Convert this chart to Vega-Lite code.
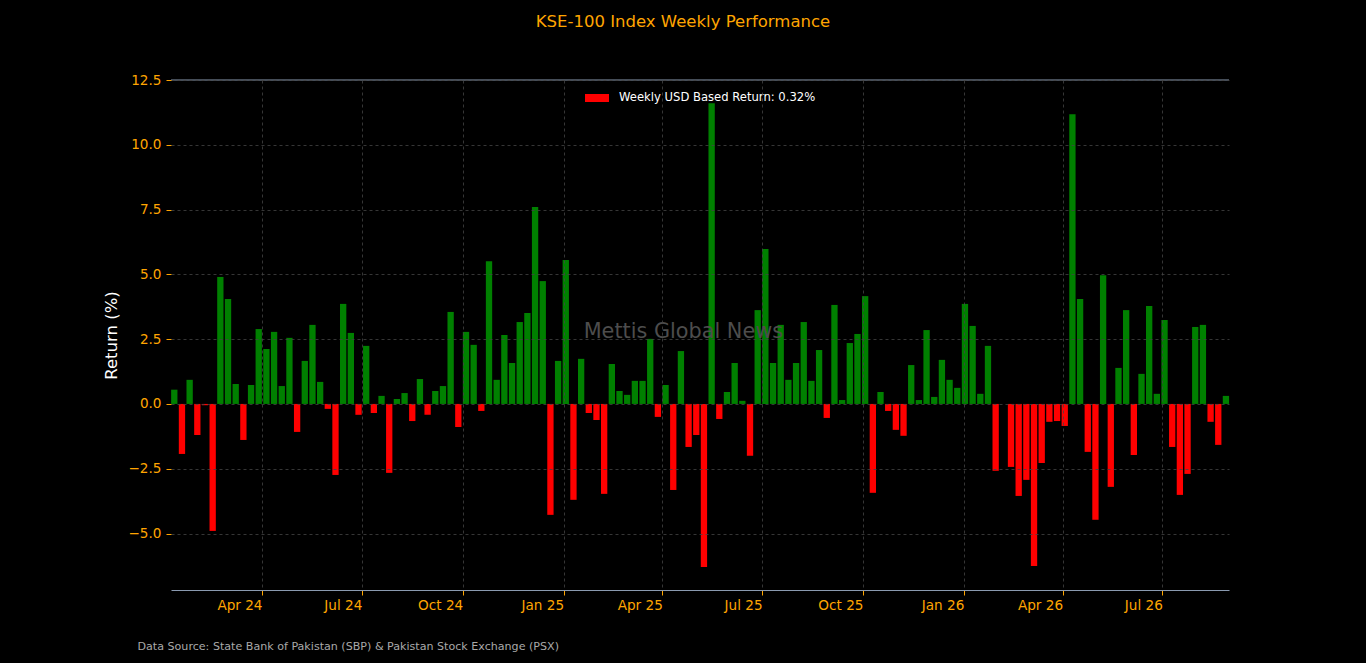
{
  "$schema": "https://vega.github.io/schema/vega-lite/v6.json",
  "autosize": {"type": "none"},
  "padding": {"left": 171, "top": 80, "right": 137, "bottom": 73},
  "width": 1058,
  "height": 510,
  "background": "#000000",
  "title": {
    "text": "KSE-100 Index Weekly Performance",
    "color": "#FFA500",
    "font": "DejaVu Sans",
    "fontSize": 16.5,
    "fontWeight": "normal",
    "anchor": "middle",
    "frame": "group",
    "dx": -17,
    "baseline": "alphabetic",
    "offset": 30
  },
  "data": {
    "values": [
      {"week": "2024-01-12", "ret": 0.55}, {"week": "2024-01-19", "ret": -1.93}, {"week": "2024-01-26", "ret": 0.93},
      {"week": "2024-02-02", "ret": -1.2}, {"week": "2024-02-09", "ret": -0.05}, {"week": "2024-02-16", "ret": -4.9},
      {"week": "2024-02-23", "ret": 4.9}, {"week": "2024-03-01", "ret": 4.05}, {"week": "2024-03-08", "ret": 0.77},
      {"week": "2024-03-15", "ret": -1.39}, {"week": "2024-03-22", "ret": 0.73}, {"week": "2024-03-29", "ret": 2.89},
      {"week": "2024-04-05", "ret": 2.12}, {"week": "2024-04-12", "ret": 2.78}, {"week": "2024-04-19", "ret": 0.69},
      {"week": "2024-04-26", "ret": 2.55}, {"week": "2024-05-03", "ret": -1.08}, {"week": "2024-05-10", "ret": 1.66},
      {"week": "2024-05-17", "ret": 3.05}, {"week": "2024-05-24", "ret": 0.85}, {"week": "2024-05-31", "ret": -0.19},
      {"week": "2024-06-07", "ret": -2.74}, {"week": "2024-06-14", "ret": 3.86}, {"week": "2024-06-21", "ret": 2.74},
      {"week": "2024-06-28", "ret": -0.42}, {"week": "2024-07-05", "ret": 2.24}, {"week": "2024-07-12", "ret": -0.35},
      {"week": "2024-07-19", "ret": 0.31}, {"week": "2024-07-26", "ret": -2.66}, {"week": "2024-08-02", "ret": 0.19},
      {"week": "2024-08-09", "ret": 0.42}, {"week": "2024-08-16", "ret": -0.66}, {"week": "2024-08-23", "ret": 0.96},
      {"week": "2024-08-30", "ret": -0.42}, {"week": "2024-09-06", "ret": 0.5}, {"week": "2024-09-13", "ret": 0.69},
      {"week": "2024-09-20", "ret": 3.55}, {"week": "2024-09-27", "ret": -0.89}, {"week": "2024-10-04", "ret": 2.78},
      {"week": "2024-10-11", "ret": 2.28}, {"week": "2024-10-18", "ret": -0.27}, {"week": "2024-10-25", "ret": 5.51},
      {"week": "2024-11-01", "ret": 0.93}, {"week": "2024-11-08", "ret": 2.66}, {"week": "2024-11-15", "ret": 1.58},
      {"week": "2024-11-22", "ret": 3.16}, {"week": "2024-11-29", "ret": 3.51}, {"week": "2024-12-06", "ret": 7.6},
      {"week": "2024-12-13", "ret": 4.74}, {"week": "2024-12-20", "ret": -4.28}, {"week": "2024-12-27", "ret": 1.66},
      {"week": "2025-01-03", "ret": 5.55}, {"week": "2025-01-10", "ret": -3.7}, {"week": "2025-01-17", "ret": 1.74},
      {"week": "2025-01-24", "ret": -0.35}, {"week": "2025-01-31", "ret": -0.62}, {"week": "2025-02-07", "ret": -3.47},
      {"week": "2025-02-14", "ret": 1.54}, {"week": "2025-02-21", "ret": 0.5}, {"week": "2025-02-28", "ret": 0.35},
      {"week": "2025-03-07", "ret": 0.89}, {"week": "2025-03-14", "ret": 0.89}, {"week": "2025-03-21", "ret": 2.51},
      {"week": "2025-03-28", "ret": -0.5}, {"week": "2025-04-04", "ret": 0.73}, {"week": "2025-04-11", "ret": -3.32},
      {"week": "2025-04-18", "ret": 2.04}, {"week": "2025-04-25", "ret": -1.66}, {"week": "2025-05-02", "ret": -1.2},
      {"week": "2025-05-09", "ret": -6.29}, {"week": "2025-05-16", "ret": 11.6}, {"week": "2025-05-23", "ret": -0.58},
      {"week": "2025-05-30", "ret": 0.46}, {"week": "2025-06-06", "ret": 1.58}, {"week": "2025-06-13", "ret": 0.12},
      {"week": "2025-06-20", "ret": -2.0}, {"week": "2025-06-27", "ret": 3.62}, {"week": "2025-07-04", "ret": 5.98},
      {"week": "2025-07-11", "ret": 1.58}, {"week": "2025-07-18", "ret": 3.05}, {"week": "2025-07-25", "ret": 0.93},
      {"week": "2025-08-01", "ret": 1.58}, {"week": "2025-08-08", "ret": 3.16}, {"week": "2025-08-15", "ret": 0.89},
      {"week": "2025-08-22", "ret": 2.08}, {"week": "2025-08-29", "ret": -0.54}, {"week": "2025-09-05", "ret": 3.82},
      {"week": "2025-09-12", "ret": 0.15}, {"week": "2025-09-19", "ret": 2.35}, {"week": "2025-09-26", "ret": 2.7},
      {"week": "2025-10-03", "ret": 4.16}, {"week": "2025-10-10", "ret": -3.43}, {"week": "2025-10-17", "ret": 0.46},
      {"week": "2025-10-24", "ret": -0.27}, {"week": "2025-10-31", "ret": -1.0}, {"week": "2025-11-07", "ret": -1.23},
      {"week": "2025-11-14", "ret": 1.5}, {"week": "2025-11-21", "ret": 0.15}, {"week": "2025-11-28", "ret": 2.85},
      {"week": "2025-12-05", "ret": 0.27}, {"week": "2025-12-12", "ret": 1.7}, {"week": "2025-12-19", "ret": 0.93},
      {"week": "2025-12-26", "ret": 0.62}, {"week": "2026-01-02", "ret": 3.86}, {"week": "2026-01-09", "ret": 3.01},
      {"week": "2026-01-16", "ret": 0.39}, {"week": "2026-01-23", "ret": 2.24}, {"week": "2026-01-30", "ret": -2.58},
      {"week": "2026-02-06", "ret": 0.0}, {"week": "2026-02-13", "ret": -2.43}, {"week": "2026-02-20", "ret": -3.55},
      {"week": "2026-02-27", "ret": -2.93}, {"week": "2026-03-06", "ret": -6.25}, {"week": "2026-03-13", "ret": -2.28},
      {"week": "2026-03-20", "ret": -0.69}, {"week": "2026-03-27", "ret": -0.66}, {"week": "2026-04-03", "ret": -0.85},
      {"week": "2026-04-10", "ret": 11.18}, {"week": "2026-04-17", "ret": 4.05}, {"week": "2026-04-24", "ret": -1.85},
      {"week": "2026-05-01", "ret": -4.47}, {"week": "2026-05-08", "ret": 4.97}, {"week": "2026-05-15", "ret": -3.2},
      {"week": "2026-05-22", "ret": 1.39}, {"week": "2026-05-29", "ret": 3.62}, {"week": "2026-06-05", "ret": -1.97},
      {"week": "2026-06-12", "ret": 1.16}, {"week": "2026-06-19", "ret": 3.78}, {"week": "2026-06-26", "ret": 0.39},
      {"week": "2026-07-03", "ret": 3.24}, {"week": "2026-07-10", "ret": -1.66}, {"week": "2026-07-17", "ret": -3.51},
      {"week": "2026-07-24", "ret": -2.7}, {"week": "2026-07-31", "ret": 2.97}, {"week": "2026-08-07", "ret": 3.05},
      {"week": "2026-08-14", "ret": -0.69}, {"week": "2026-08-21", "ret": -1.58}, {"week": "2026-08-28", "ret": 0.31}
    ],
    "format": {"parse": {"week": "date:'%Y-%m-%d'"}}
  },
  "layer": [
    {
      "mark": {"type": "bar", "size": 6.3, "strokeWidth": 0},
      "encoding": {
        "x": {
          "field": "week",
          "type": "temporal",
          "scale": {
            "padding": 0,
            "domain": [
              {"year": 2024, "month": 1, "date": 9},
              {"year": 2026, "month": 8, "date": 30, "hours": 19}
            ]
          },
          "axis": {
            "values": [
              {"year": 2024, "month": 4, "date": 1}, {"year": 2024, "month": 7, "date": 1},
              {"year": 2024, "month": 10, "date": 1}, {"year": 2025, "month": 1, "date": 1},
              {"year": 2025, "month": 4, "date": 1}, {"year": 2025, "month": 7, "date": 1},
              {"year": 2025, "month": 10, "date": 1}, {"year": 2026, "month": 1, "date": 1},
              {"year": 2026, "month": 4, "date": 1}, {"year": 2026, "month": 7, "date": 1}
            ],
            "format": "%b %y",
            "labelAlign": "right",
            "labelBaseline": "top",
            "labelPadding": 3,
            "labelColor": "#FFA500",
            "labelFontSize": 13.6,
            "tickColor": "#FFA500",
            "tickSize": 5,
            "domainColor": "#8a9ab0",
            "domainWidth": 1,
            "grid": true,
            "gridColor": "#444444",
            "gridDash": [3, 3],
            "gridWidth": 0.8,
            "zindex": 1,
            "title": "Data Source: State Bank of Pakistan (SBP) & Pakistan Stock Exchange (PSX)",
            "titleColor": "#a9a9a9",
            "titleFontSize": 11.1,
            "titleFontWeight": "normal",
            "titleAnchor": "start",
            "titleAlign": "left",
            "titleBaseline": "alphabetic",
            "titleX": -34,
            "titleY": 59
          }
        },
        "y": {
          "field": "ret",
          "type": "quantitative",
          "scale": {"domain": [-7.18, 12.5], "nice": false, "zero": false, "padding": 0},
          "axis": {
            "values": [-5, -2.5, 0, 2.5, 5, 7.5, 10, 12.5],
            "format": ".1f",
            "domain": false,
            "labelColor": "#FFA500",
            "labelFontSize": 13.6,
            "labelPadding": 5,
            "tickColor": "#FFA500",
            "tickSize": 5,
            "grid": true,
            "gridColor": "#444444",
            "gridDash": [3, 3],
            "gridWidth": 0.8,
            "zindex": 1,
            "title": "Return (%)",
            "titleColor": "#ffffff",
            "titleFontSize": 16.5,
            "titleFontWeight": "normal",
            "titlePadding": 8
          }
        },
        "color": {
          "condition": {"test": "datum.ret >= 0", "value": "#008000"},
          "datum": "Weekly USD Based Return: 0.32%",
          "type": "nominal",
          "scale": {"range": ["#ff0000"]},
          "legend": {
            "orient": "none",
            "legendX": 418,
            "legendY": 10,
            "title": null,
            "padding": 0,
            "symbolType": "M-1.5,-0.5H1.5V0.5H-1.5Z",
            "symbolSize": 256,
            "symbolStrokeWidth": 0,
            "labelColor": "#ffffff",
            "labelFontSize": 11.6,
            "labelLimit": 400,
            "labelOffset": 14
          }
        }
      }
    },
    {
      "data": {"values": [{}]},
      "mark": {"type": "rule", "color": "#8a9ab0", "strokeWidth": 1},
      "encoding": {"y": {"datum": 12.5, "type": "quantitative"}}
    },
    {
      "data": {"values": [{"label": "Mettis Global News"}]},
      "mark": {"type": "text", "color": "#4d4d4d", "fontSize": 20.8, "align": "center", "baseline": "alphabetic"},
      "encoding": {
        "x": {"datum": {"year": 2025, "month": 4, "date": 20, "hours": 5}, "type": "temporal"},
        "y": {"datum": 2.535, "type": "quantitative"},
        "text": {"field": "label"}
      }
    }
  ],
  "config": {
    "font": "DejaVu Sans",
    "view": {"stroke": null},
    "axis": {"labelFont": "DejaVu Sans", "titleFont": "DejaVu Sans"},
    "legend": {"labelFont": "DejaVu Sans"}
  }
}
